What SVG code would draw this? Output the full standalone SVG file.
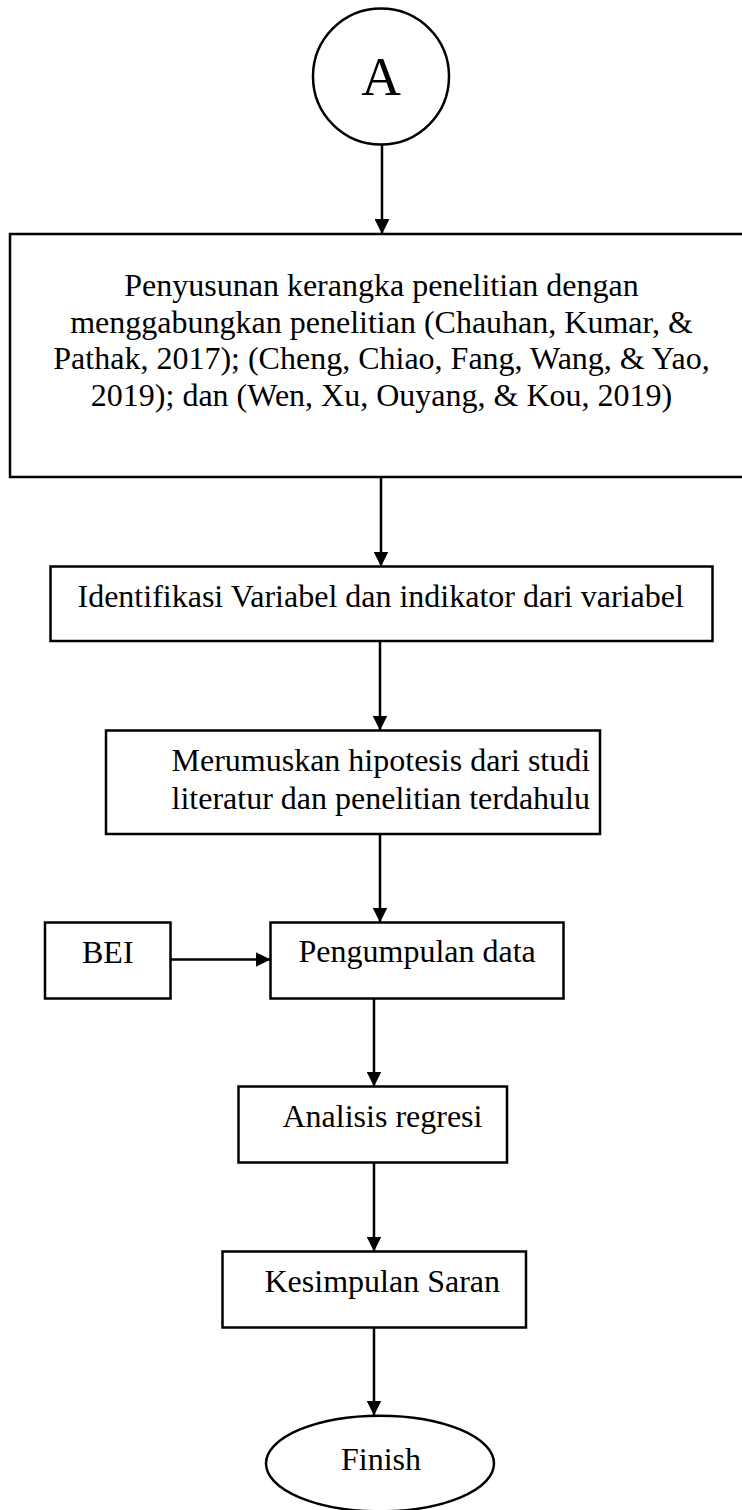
<svg xmlns="http://www.w3.org/2000/svg" width="742" height="1510" viewBox="0 0 742 1510">
<defs>
<style>
.box{fill:#fff;stroke:#000;stroke-width:2.5}
.t{font-family:"Liberation Serif","Times New Roman",serif;font-size:32px;fill:#000}
.c{text-anchor:middle}
.ln{stroke:#000;stroke-width:2.5;fill:none}
</style>
<marker id="ah" markerUnits="userSpaceOnUse" markerWidth="16" markerHeight="15" refX="15" refY="7.5" orient="auto" viewBox="0 0 16 15">
<path d="M0,0 L15,7.5 L0,15 z" fill="#000"/>
</marker>
</defs>
<g id="connectors">
<line class="ln" x1="382" y1="145" x2="382" y2="234" marker-end="url(#ah)"/>
<line class="ln" x1="381" y1="477" x2="381" y2="566.5" marker-end="url(#ah)"/>
<line class="ln" x1="380" y1="641" x2="380" y2="730.5" marker-end="url(#ah)"/>
<line class="ln" x1="380" y1="834" x2="380" y2="922.5" marker-end="url(#ah)"/>
<line class="ln" x1="171" y1="959.5" x2="270.5" y2="959.5" marker-end="url(#ah)"/>
<line class="ln" x1="374" y1="998.5" x2="374" y2="1086.5" marker-end="url(#ah)"/>
<line class="ln" x1="374" y1="1162.5" x2="374" y2="1251.5" marker-end="url(#ah)"/>
<line class="ln" x1="374" y1="1327.5" x2="374" y2="1415.5" marker-end="url(#ah)"/>
</g>
<g id="nodeA">
<circle class="box" cx="381" cy="76.5" r="68"/>
<text class="t c" x="381" y="94.5" style="font-size:55px">A</text>
</g>
<g id="nodeKerangka">
<rect class="box" x="10" y="234" width="745" height="243"/>
<text class="t c" x="381.5" y="296">Penyusunan kerangka penelitian dengan</text>
<text class="t c" x="381.5" y="332.5">menggabungkan penelitian (Chauhan, Kumar, &amp;</text>
<text class="t c" x="381.5" y="369">Pathak, 2017); (Cheng, Chiao, Fang, Wang, &amp; Yao,</text>
<text class="t c" x="381.5" y="405.5">2019); dan (Wen, Xu, Ouyang, &amp; Kou, 2019)</text>
</g>
<g id="nodeIdentifikasi">
<rect class="box" x="50.5" y="566.5" width="662" height="74.5"/>
<text class="t" x="77.5" y="606.5">Identifikasi Variabel dan indikator dari variabel</text>
</g>
<g id="nodeHipotesis">
<rect class="box" x="106" y="730.5" width="494" height="103.5"/>
<text class="t" x="171.5" y="771">Merumuskan hipotesis dari studi</text>
<text class="t" x="171.5" y="808.5">literatur dan penelitian terdahulu</text>
</g>
<g id="nodeBEI">
<rect class="box" x="45" y="922.5" width="125.5" height="76"/>
<text class="t" x="82" y="962.5">BEI</text>
</g>
<g id="nodePengumpulan">
<rect class="box" x="270.5" y="922.5" width="293" height="76"/>
<text class="t" x="298.5" y="962">Pengumpulan data</text>
</g>
<g id="nodeAnalisis">
<rect class="box" x="238.5" y="1086.5" width="268.5" height="76"/>
<text class="t" x="282.5" y="1126.5">Analisis regresi</text>
</g>
<g id="nodeKesimpulan">
<rect class="box" x="222.5" y="1251.5" width="303.5" height="76"/>
<text class="t" x="264.5" y="1291.5">Kesimpulan Saran</text>
</g>
<g id="nodeFinish">
<ellipse class="box" cx="380" cy="1463.5" rx="114" ry="47.8"/>
<text class="t" x="341" y="1470">Finish</text>
</g>
</svg>
